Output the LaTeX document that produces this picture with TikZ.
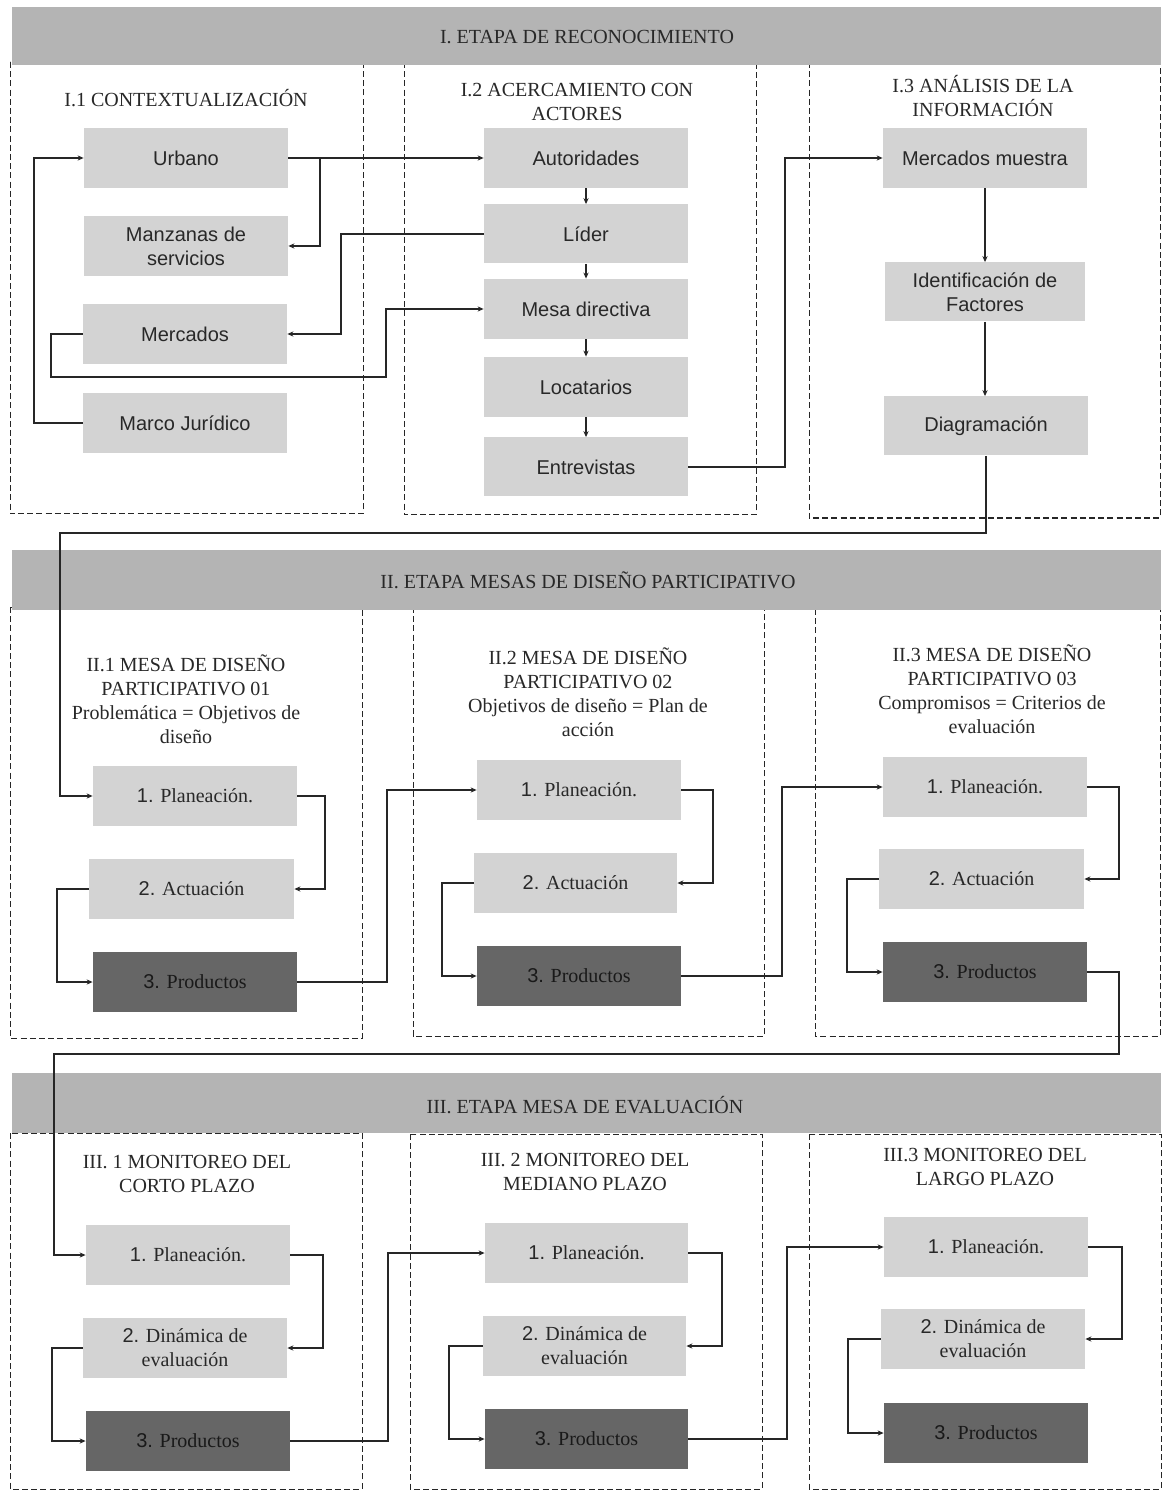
\documentclass[tikz,border=0pt]{standalone}
\usepackage{fontspec}
\setmainfont{Liberation Serif}
\setsansfont{Liberation Sans}
\usetikzlibrary{arrows.meta}
\definecolor{bandgray}{RGB}{180,180,180}
\definecolor{lightbox}{RGB}{211,211,211}
\definecolor{darkbox}{RGB}{102,102,102}
\definecolor{txt}{RGB}{40,40,40}
\begin{document}
\begin{tikzpicture}[x=0.5pt,y=-0.5pt,
  band/.style={fill=bandgray,draw=none},
  panel/.style={draw=black!85,dashed,dash pattern=on 3pt off 1.6pt,line width=0.5pt},
  bandlabel/.style={font=\fontsize{10}{12}\selectfont,text=txt,inner sep=0pt},
  title/.style={font=\fontsize{10}{12}\selectfont,text=txt,align=center,inner sep=0pt},
  sbox/.style={fill=lightbox,minimum width=102pt,minimum height=30pt,inner sep=0pt,align=center,
     font=\sffamily\fontsize{10}{12}\selectfont,text=txt},
  lbox/.style={fill=lightbox,minimum width=102pt,minimum height=30pt,inner sep=0pt,align=center,
     font=\fontsize{10}{12}\selectfont,text=txt},
  dbox/.style={fill=darkbox,minimum width=102pt,minimum height=30pt,inner sep=0pt,align=center,
     font=\fontsize{10}{12}\selectfont,text=black!90},
  arr/.style={draw=black!85,line width=0.6pt,-{Stealth[length=3pt,width=2.6pt]}}
]
\useasboundingbox (0,0) rectangle (1163,1491);
\fill[white] (0,0) rectangle (1163,1491);

% dashed panels
\draw[panel] (10,62) rectangle (363,514);
\draw[panel] (404,62) rectangle (756,515);
\draw[panel] (809,62) rectangle (1160,518);
\draw[panel] (10,607) rectangle (362,1038);
\draw[panel] (413,607) rectangle (764,1036);
\draw[panel] (815,609) rectangle (1160,1036);
\draw[panel] (10,1133) rectangle (362,1489);
\draw[panel] (410,1134) rectangle (762,1489);
\draw[panel] (809,1134) rectangle (1161,1489);

% bands
\fill[band] (12,7) rectangle (1161,65);
\fill[band] (12,550) rectangle (1161,610);
\fill[band] (12,1073) rectangle (1161,1133);
\node[bandlabel] (b1) at (587,37) {I. ETAPA DE RECONOCIMIENTO};
\node[bandlabel] (b2) at (588,580) {II. ETAPA MESAS DE DISEÑO PARTICIPATIVO};
\node[bandlabel] (b3) at (585,1105) {III. ETAPA MESA DE EVALUACIÓN};

% titles
\node[title] (t11) at (186,98) {I.1 CONTEXTUALIZACIÓN};
\node[title] (t12) at (577,102) {I.2 ACERCAMIENTO CON\\ACTORES};
\node[title] (t13) at (983,96) {I.3 ANÁLISIS DE LA\\INFORMACIÓN};
\node[title] (t21) at (186,699) {II.1 MESA DE DISEÑO\\PARTICIPATIVO 01\\Problemática = Objetivos de\\diseño};
\node[title] (t22) at (588,692) {II.2 MESA DE DISEÑO\\PARTICIPATIVO 02\\Objetivos de diseño = Plan de\\acción};
\node[title] (t23) at (992,689) {II.3 MESA DE DISEÑO\\PARTICIPATIVO 03\\Compromisos = Criterios de\\evaluación};
\node[title] (t31) at (187,1174) {III. 1 MONITOREO DEL\\CORTO PLAZO};
\node[title] (t32) at (585,1172) {III. 2 MONITOREO DEL\\MEDIANO PLAZO};
\node[title] (t33) at (985,1167) {III.3 MONITOREO DEL\\LARGO PLAZO};

% I.1
\node[sbox] (urb) at (186,158) {Urbano};
\node[sbox] (manz) at (186,246) {Manzanas de\\servicios};
\node[sbox] (merc) at (185,334) {Mercados};
\node[sbox] (marco) at (185,423) {Marco Jurídico};
% I.2
\node[sbox] (aut) at (586,158) {Autoridades};
\node[sbox,minimum height=29.5pt] (lid) at (586,234) {Líder};
\node[sbox] (mesa) at (586,309) {Mesa directiva};
\node[sbox] (loc) at (586,387) {Locatarios};
\node[sbox,minimum height=29.5pt] (ent) at (586,467) {Entrevistas};
% I.3
\node[sbox] (mm) at (985,158) {Mercados muestra};
\node[sbox,minimum width=100pt,minimum height=29.5pt] (ident) at (985,292) {Identificación de\\Factores};
\node[sbox,minimum height=29.5pt] (diag) at (986,426) {Diagramación};

% II.1
\node[lbox] (p1) at (195,796) {{\sffamily 1.} Planeación.};
\node[lbox,minimum width=102.5pt] (a1) at (191.5,889) {{\sffamily 2.} Actuación};
\node[dbox] (r1) at (195,982) {{\sffamily 3.} Productos};
% II.2
\node[lbox] (p2) at (579,790) {{\sffamily 1.} Planeación.};
\node[lbox,minimum width=101.5pt] (a2) at (575.5,883) {{\sffamily 2.} Actuación};
\node[dbox] (r2) at (579,976) {{\sffamily 3.} Productos};
% II.3
\node[lbox] (p3) at (985,787) {{\sffamily 1.} Planeación.};
\node[lbox,minimum width=102.5pt] (a3) at (981.5,879) {{\sffamily 2.} Actuación};
\node[dbox] (r3) at (985,972) {{\sffamily 3.} Productos};

% III.1
\node[lbox] (q1) at (188,1255) {{\sffamily 1.} Planeación.};
\node[lbox] (d1) at (185,1348) {{\sffamily 2.} Dinámica de\\evaluación};
\node[dbox] (s1) at (188,1441) {{\sffamily 3.} Productos};
% III.2
\node[lbox,minimum width=101.5pt] (q2) at (586.5,1253) {{\sffamily 1.} Planeación.};
\node[lbox,minimum width=101.5pt] (d2) at (584.5,1346) {{\sffamily 2.} Dinámica de\\evaluación};
\node[dbox,minimum width=101.5pt] (s2) at (586.5,1439) {{\sffamily 3.} Productos};
% III.3
\node[lbox] (q3) at (986,1247) {{\sffamily 1.} Planeación.};
\node[lbox] (d3) at (983,1339) {{\sffamily 2.} Dinámica de\\evaluación};
\node[dbox] (s3) at (986,1433) {{\sffamily 3.} Productos};

% connectors stage I
\draw[arr] (urb.east) -- (aut.west);
\draw[arr] (urb.east) -| (320,246) -- (manz.east);
\draw[arr] (lid.west) -| (341,334) -- (merc.east);
\draw[arr] (merc.west) -| (51,377) -| (386,309) -- (mesa.west);
\draw[arr] (marco.west) -| (34,158) -- (urb.west);
\draw[arr] (aut.south) -- (lid.north);
\draw[arr] (lid.south) -- (mesa.north);
\draw[arr] (mesa.south) -- (loc.north);
\draw[arr] (loc.south) -- (ent.north);
\draw[arr] (ent.east) -| (785,158) -- (mm.west);
\draw[arr] (mm.south) -- (mm.south |- ident.north);
\draw[arr] (ident.south) -- (ident.south |- diag.north);
\draw[arr] (diag.south) -- (986,533) -| (60,796) -- (p1.west);

% connectors stage II
\draw[arr] (p1.east) -| (325,889) -- (a1.east);
\draw[arr] (a1.west) -| (57,982) -- (r1.west);
\draw[arr] (r1.east) -| (387,790) -- (p2.west);
\draw[arr] (p2.east) -| (713,883) -- (a2.east);
\draw[arr] (a2.west) -| (442,976) -- (r2.west);
\draw[arr] (r2.east) -| (782,787) -- (p3.west);
\draw[arr] (p3.east) -| (1119,879) -- (a3.east);
\draw[arr] (a3.west) -| (847,972) -- (r3.west);
\draw[arr] (r3.east) -| (1119,1054) -| (54,1255) -- (q1.west);

% connectors stage III
\draw[arr] (q1.east) -| (323,1348) -- (d1.east);
\draw[arr] (d1.west) -| (52,1441) -- (s1.west);
\draw[arr] (s1.east) -| (388,1253) -- (q2.west);
\draw[arr] (q2.east) -| (722,1346) -- (d2.east);
\draw[arr] (d2.west) -| (449,1439) -- (s2.west);
\draw[arr] (s2.east) -| (787,1247) -- (q3.west);
\draw[arr] (q3.east) -| (1122,1339) -- (d3.east);
\draw[arr] (d3.west) -| (848,1433) -- (s3.west);
\end{tikzpicture}
\end{document}
